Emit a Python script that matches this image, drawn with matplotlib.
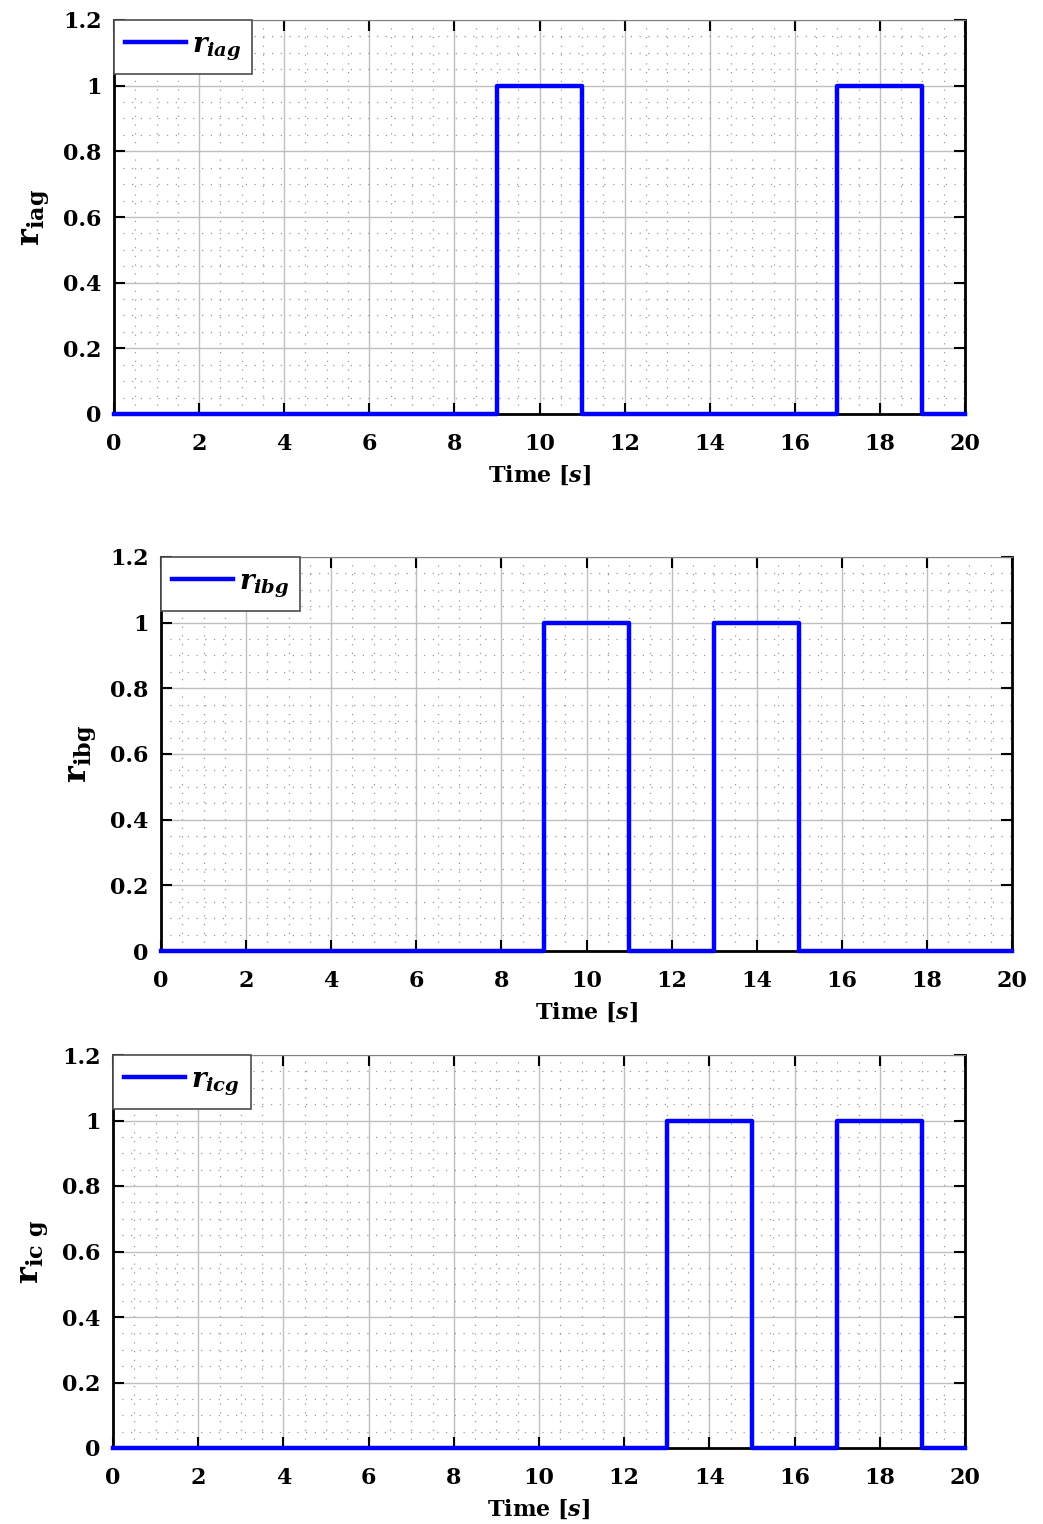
import matplotlib
matplotlib.use("Agg")
import matplotlib.pyplot as plt
from matplotlib.ticker import MultipleLocator

plt.rcParams["font.family"] = "DejaVu Serif"
plt.rcParams["font.weight"] = "bold"
plt.rcParams["axes.labelweight"] = "bold"
plt.rcParams["mathtext.fontset"] = "custom"
plt.rcParams["mathtext.it"] = "DejaVu Serif:italic:bold"
plt.rcParams["mathtext.rm"] = "DejaVu Serif:bold"
plt.rcParams["mathtext.bf"] = "DejaVu Serif:bold"

# temps des fronts et valeurs (signal en escalier)
t_a = [0, 9, 11, 17, 19, 20]
r_a = [0, 1, 0, 1, 0, 0]
t_b = [0, 9, 11, 13, 15, 20]
r_b = [0, 1, 0, 1, 0, 0]
t_c = [0, 13, 15, 17, 19, 20]
r_c = [0, 1, 0, 1, 0, 0]

legends = [r"$r_{iag}$", r"$r_{ibg}$", r"$r_{icg}$"]
ylabels = [r"$\mathrm{r_{iag}}$", r"$\mathrm{r_{ibg}}$", r"$\mathrm{r_{ic\ g}}$"]
series = [(t_a, r_a), (t_b, r_b), (t_c, r_c)]

W, H = 1043, 1524
boxes = [(114, 20, 965, 414), (161, 557, 1012, 951), (113, 1055, 965, 1448)]

fig = plt.figure(figsize=(W / 100, H / 100), dpi=100)

for (x0, y0, x1, y1), (t, r), leg, yl in zip(boxes, series, legends, ylabels):
    ax = fig.add_axes([x0 / W, (H - y1) / H, (x1 - x0) / W, (y1 - y0) / H])
    ax.plot(t, r, drawstyle="steps-post", color="#0000ff", lw=3.2, label=leg,
            zorder=5, clip_on=False)
    ax.set_xlim(0, 20)
    ax.set_ylim(0, 1.2)
    ax.xaxis.set_major_locator(MultipleLocator(2))
    ax.xaxis.set_minor_locator(MultipleLocator(0.5))
    ax.yaxis.set_minor_locator(MultipleLocator(0.05))
    ax.set_yticks([0, 0.2, 0.4, 0.6, 0.8, 1, 1.2])
    ax.set_yticklabels(["0", "0.2", "0.4", "0.6", "0.8", "1", "1.2"])
    ax.grid(which="major", color="0.75", lw=1.0)
    ax.grid(which="minor", color="0.6", lw=0.9, linestyle=(0, (1, 6)))
    ax.tick_params(which="major", direction="in", length=8, width=1.5,
                   top=True, right=True, labelsize=16)
    ax.tick_params(axis="x", pad=14)
    ax.tick_params(axis="y", pad=9)
    ax.tick_params(which="minor", length=0)
    for s in ["left", "bottom", "right"]:
        ax.spines[s].set_linewidth(2)
    ax.spines["top"].set_color("0.5")
    ax.set_xlabel("Time [$s$]", fontsize=16, labelpad=6)
    ax.set_ylabel(yl, fontsize=23, labelpad=8)
    lg = ax.legend(loc="upper left", fontsize=20, borderaxespad=0,
                   fancybox=False, framealpha=1, edgecolor="0.3",
                   handlelength=2.2, borderpad=0.4, handletextpad=0.2)
    lg.get_frame().set_linewidth(1.2)

fig.savefig("out.png", dpi=100)
